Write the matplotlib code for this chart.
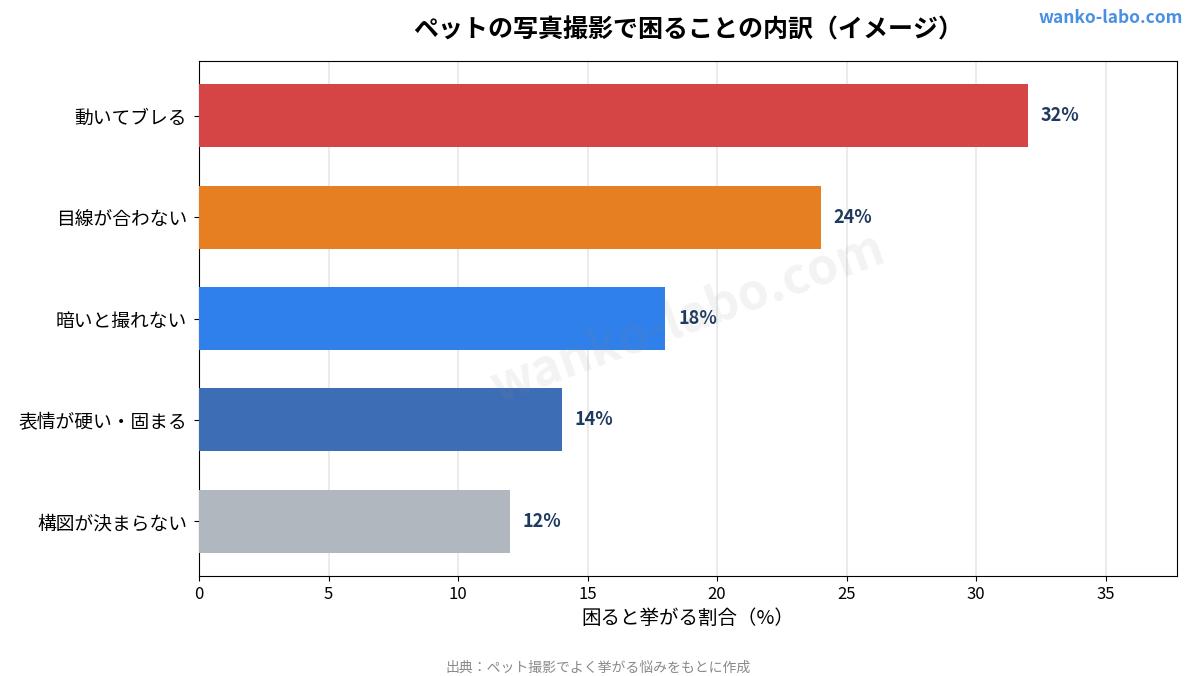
import matplotlib
matplotlib.use("Agg")
import matplotlib.pyplot as plt

plt.rcParams['font.family'] = ['Noto Sans CJK JP', 'DejaVu Sans']

# data
categories = ['動いてブレる', '目線が合わない', '暗いと撮れない', '表情が硬い・固まる', '構図が決まらない']
values = [32, 24, 18, 14, 12]
colors = ['#D64545', '#E67E22', '#2F80EA', '#3D6DB5', '#B0B7BF']

fig = plt.figure(figsize=(11.96, 6.76), dpi=100)
ax = fig.add_axes([199 / 1196, 1 - 576 / 676, (1177 - 199) / 1196, (576 - 61) / 676])

y = list(range(len(categories)))
ax.barh(y, values, height=0.62, color=colors, zorder=3)
ax.set_yticks(y)
ax.set_yticklabels(categories, fontsize=13.5)
ax.tick_params(axis='y', pad=5)
ax.invert_yaxis()
ax.set_xlim(0, max(values) * 1.18)
ax.set_xticks([0, 5, 10, 15, 20, 25, 30, 35])
ax.tick_params(axis='x', labelsize=12)
ax.grid(axis='x', color='#E8E8E8', linewidth=1.2, zorder=0)
ax.set_axisbelow(True)

for yi, v in zip(y, values):
    ax.text(v + 0.5, yi, f'{v}%', va='center', ha='left', fontsize=13,
            fontweight='bold', color='#1F3A5F', zorder=4)

ax.set_xlabel('困ると挙がる割合（%）', fontsize=14, labelpad=4)
fig.text(688 / 1196, 1 - 30 / 676, 'ペットの写真撮影で困ることの内訳（イメージ）',
         ha='center', va='center', fontsize=18, fontweight='bold')
fig.text(1183 / 1196, 1 - 18 / 676, 'wanko-labo.com', ha='right', va='center',
         fontsize=12.5, fontweight='bold', color='#4A90E2')
fig.text(0.5, 1 - 668 / 676, '出典：ペット撮影でよく挙がる悩みをもとに作成',
         ha='center', va='center', fontsize=10, color='#8A8A8A')

# watermark
fig.text(688 / 1196, 1 - 318 / 676, 'wanko-labo.com', ha='center', va='center',
         fontsize=36, fontweight='bold', color='#888888', alpha=0.1, rotation=20, zorder=10)

fig.savefig('out.png', dpi=100)
